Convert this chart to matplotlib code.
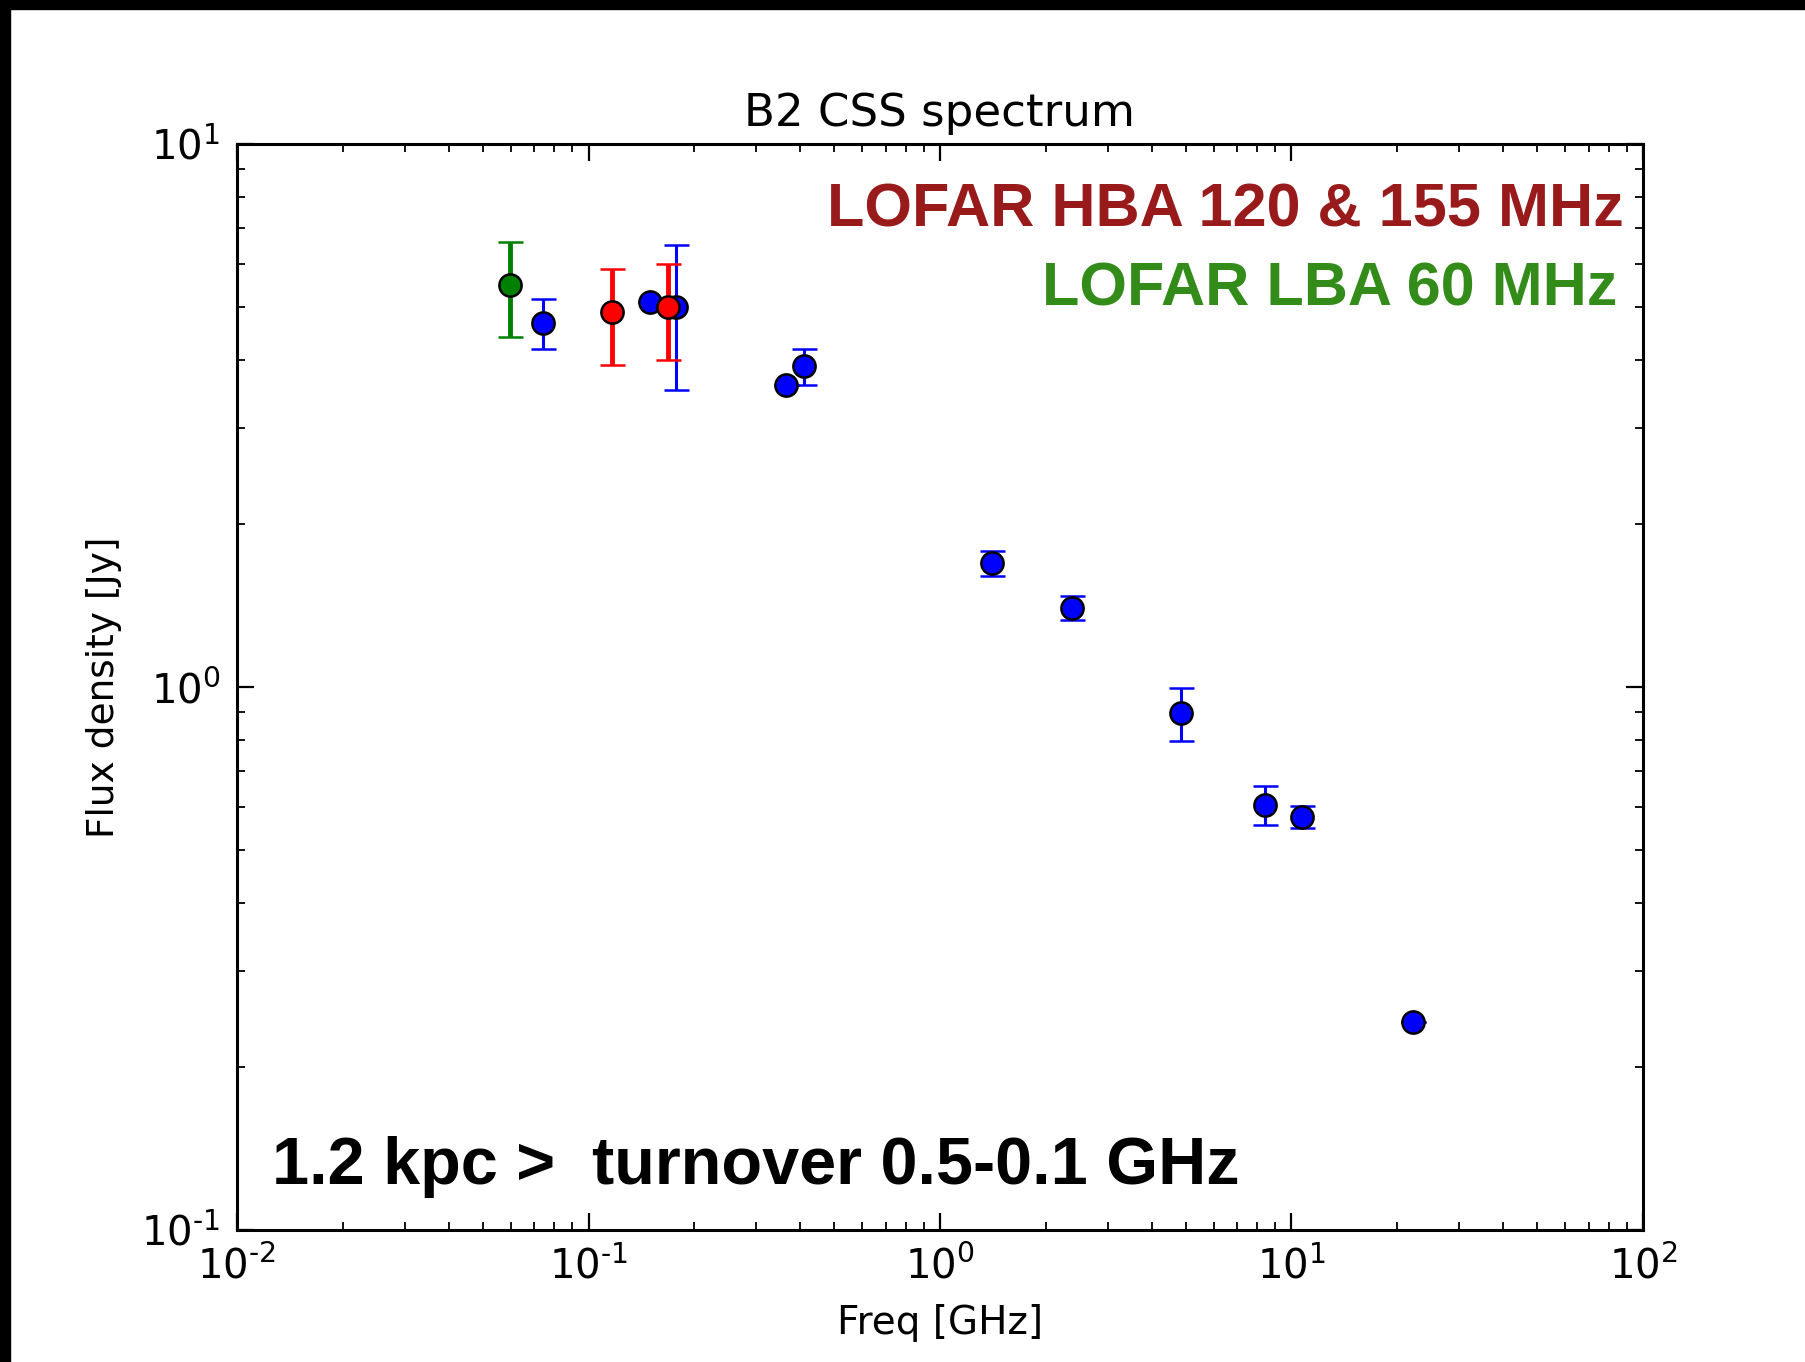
import numpy as np
import matplotlib.pyplot as plt
from matplotlib.patches import Rectangle
from matplotlib.ticker import FuncFormatter

# literature points (GHz, Jy)
freq_lit = [0.074, 0.150, 0.1775, 0.364, 0.410, 1.405, 2.38, 4.85, 8.41, 10.7, 22.1]
flux_lit = [4.69, 5.12, 5.02, 3.60, 3.90, 1.69, 1.40, 0.896, 0.606, 0.577, 0.242]
err_lit = [0.50, 0.0, 1.50, 0.0, 0.30, 0.09, 0.07, 0.10, 0.05, 0.028, 0.0]

# LOFAR HBA
freq_hba = [0.117, 0.168]
flux_hba = [4.90, 5.00]
err_hba = [0.98, 1.00]

# LOFAR LBA
freq_lba = [0.0598]
flux_lba = [5.51]
err_lba = [1.10]


def pow10(v, pos):
    e = int(round(np.log10(v)))
    if e < 0:
        return r'$\mathdefault{10^{\text{-}%d}}$' % -e
    return r'$\mathdefault{10^{%d}}$' % e


W, H = 1806, 1362
fig = plt.figure(figsize=(W / 100, H / 100), dpi=100)
ax = fig.add_axes([237 / W, 1 - 1230 / H, 1406 / W, 1086 / H])

ax.errorbar(freq_lit, flux_lit, yerr=err_lit, fmt='o', color='blue', mfc='blue',
            mec='black', mew=1.8, ms=16, elinewidth=2.2, capsize=9, capthick=2.2,
            zorder=3)
ax.errorbar(freq_hba, flux_hba, yerr=err_hba, fmt='o', color='red', mfc='red',
            mec='black', mew=1.8, ms=16, elinewidth=3.5, capsize=9, capthick=3.5,
            zorder=4)
ax.errorbar(freq_lba, flux_lba, yerr=err_lba, fmt='o', color='green', mfc='green',
            mec='black', mew=1.8, ms=16, elinewidth=3.5, capsize=9, capthick=3.5,
            zorder=4)

ax.set_xscale('log')
ax.set_yscale('log')
ax.set_xlim(1e-2, 1e2)
ax.set_ylim(1e-1, 1e1)
ax.xaxis.set_major_formatter(FuncFormatter(pow10))
ax.yaxis.set_major_formatter(FuncFormatter(pow10))

for s in ax.spines.values():
    s.set_linewidth(2.2)
ax.tick_params(which='both', direction='in', top=True, right=True, labelsize=29,
               pad=12)
ax.tick_params(which='major', length=12, width=1.6)
ax.tick_params(which='minor', length=6, width=1.3)

ax.set_title('B2 CSS spectrum', fontsize=32.5, pad=13)
ax.set_xlabel('Freq [GHz]', fontsize=28, labelpad=12)
ax.set_ylabel('Flux density [Jy]', fontsize=27, labelpad=14)

ax.text(0.9865, 0.9236, 'LOFAR HBA 120 & 155 MHz', transform=ax.transAxes,
        ha='right', va='baseline', fontsize=44, fontweight='bold',
        family='Liberation Sans', color='#981a1a')
ax.text(0.982, 0.8517, 'LOFAR LBA 60 MHz', transform=ax.transAxes,
        ha='right', va='baseline', fontsize=44, fontweight='bold',
        family='Liberation Sans', color='#338c1a')
ax.text(0.0249, 0.0424, '1.2 kpc >  turnover 0.5-0.1 GHz', transform=ax.transAxes,
        ha='left', va='baseline', fontsize=48, fontweight='bold',
        family='Liberation Sans', color='black')

# dark frame strips along the top and left edges
fig.patches.append(Rectangle((0, 1 - 9 / H), 1, 9 / H, transform=fig.transFigure,
                             color='black', zorder=10))
fig.patches.append(Rectangle((0, 0), 10 / W, 1, transform=fig.transFigure,
                             color='black', zorder=10))

fig.savefig('out.png', dpi=100)
